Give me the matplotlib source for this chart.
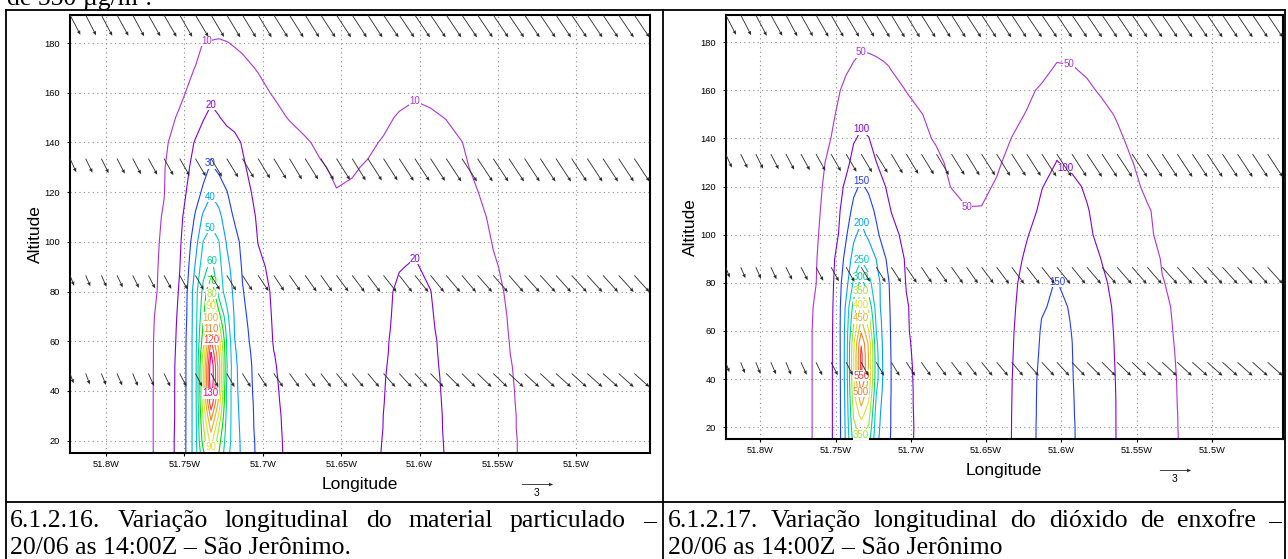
import matplotlib
matplotlib.use("Agg")
import matplotlib.pyplot as plt
import numpy as np

W, H = 1288, 559

# ---------------- data ----------------
# model grid longitudes (negative = West) and altitudes (m)
lon = [-51.823, -51.783, -51.773, -51.763, -51.753, -51.748, -51.743, -51.738,
       -51.733, -51.728, -51.723, -51.718, -51.713, -51.703, -51.693, -51.683,
       -51.673, -51.663, -51.653, -51.643, -51.633, -51.623, -51.613, -51.603,
       -51.593, -51.583, -51.573, -51.563, -51.553, -51.543, -51.533, -51.523,
       -51.513, -51.453]
alt = [15, 20, 25, 30, 35, 40, 45, 50, 55, 60, 65, 70, 80, 90, 100, 110, 120,
       130, 140, 150, 160, 170, 180, 192]

# particulate matter (ug/m3), one row per altitude
pm = [
    [2, 5, 8, 14.5, 23, 32, 46, 68, 86, 70, 53, 45, 38, 28, 22, 18.5, 16.8, 15.7, 15.2, 15.6, 17.5, 20.5, 22.5, 24, 21.8, 19.7, 16.5, 14, 12.2, 10.8, 9.3, 8, 7, 3],
    [2, 5, 8, 14.5, 23, 32, 46, 75, 94, 74, 55, 45, 37.7, 27.8, 21.8, 18.5, 16.8, 15.7, 15.2, 15.6, 17.5, 20.3, 22.4, 23.9, 21.7, 19.6, 16.5, 14, 12.2, 10.8, 9.3, 8, 7, 3],
    [2, 5, 8, 14.5, 22.8, 32, 46, 78, 103, 80, 56, 44.5, 37.2, 27.3, 21.5, 18.5, 16.8, 15.7, 15.2, 15.6, 17.4, 20.1, 22.3, 23.8, 21.6, 19.5, 16.4, 13.9, 12.1, 10.7, 9.2, 7.9, 6.9, 3],
    [2, 5, 8, 14.5, 22.6, 32, 46, 82, 114, 88, 57, 44, 36.7, 27.3, 21.3, 18.5, 16.7, 15.6, 15.1, 15.5, 17.3, 20.05, 22.2, 23.7, 21.5, 19.5, 16.4, 13.9, 12.1, 10.7, 9.2, 7.9, 6.9, 3],
    [2, 5, 8, 14.5, 22.6, 32, 46, 86, 127, 96, 58, 43.5, 36.2, 27.2, 21, 18.4, 16.7, 15.6, 15.1, 15.5, 17.2, 19.9, 22.1, 23.6, 21.4, 19.4, 16.3, 13.8, 12, 10.6, 9.1, 7.8, 6.8, 3],
    [2, 5, 8, 14.5, 22.6, 32, 46, 88, 136, 102, 58, 43, 35.7, 26.8, 20.8, 18.3, 16.6, 15.5, 15, 15.4, 17.2, 19.8, 22, 23.5, 21.3, 19.3, 16.2, 13.8, 12, 10.5, 9.1, 7.8, 6.8, 3],
    [2, 5, 8, 14.4, 22.6, 32, 46, 88, 140, 105, 60, 42.7, 35.5, 26.6, 20.6, 18.2, 16.6, 15.5, 15, 15.4, 17.1, 19.7, 21.9, 23.4, 21.2, 19.2, 16.1, 13.7, 11.9, 10.4, 9, 7.7, 6.7, 3],
    [2, 5, 8, 14.3, 22.6, 32, 46, 87, 139, 105, 61, 42.4, 35.3, 26.4, 20.4, 18, 16.5, 15.4, 14.9, 15.3, 17, 19.5, 21.8, 23.3, 21.1, 19, 16, 13.6, 11.8, 10.3, 8.9, 7.7, 6.7, 3],
    [2, 5, 8, 14.2, 22.3, 32, 46, 82, 131, 101, 60, 41.5, 34.5, 26, 20.1, 18, 16.5, 15.4, 14.9, 15.3, 16.9, 19.3, 21.6, 23.1, 21, 18.8, 15.8, 13.5, 11.7, 10.1, 8.9, 7.6, 6.6, 3],
    [2, 5, 8, 14.1, 22, 32, 46, 76, 121, 95, 59, 40.3, 33.5, 25.4, 19.6, 18, 16.5, 15.3, 14.8, 15.2, 16.8, 19.2, 21.5, 23, 20.9, 18.7, 15.6, 13.4, 11.7, 10.02, 8.9, 7.6, 6.6, 3],
    [2, 5, 7.9, 13.8, 21.8, 31.5, 46, 72, 111, 85, 56, 39.5, 32.8, 25, 19.4, 17.9, 16.4, 15.2, 14.7, 15.1, 16.7, 19, 21.3, 22.7, 20.7, 18.2, 15.4, 13.2, 11.5, 9.9, 8.8, 7.5, 6.5, 3],
    [2, 5, 7.8, 13.5, 21.5, 31, 46, 68, 100.3, 74, 53, 39, 32, 24.5, 19.2, 17.8, 16.3, 15.1, 14.6, 15, 16.6, 18.8, 21.2, 22.4, 20.6, 17.6, 15.2, 13, 11.4, 9.8, 8.7, 7.5, 6.5, 3],
    [2, 5, 7.5, 12, 20.8, 30.5, 46, 63, 81, 55, 46, 37.7, 30.5, 23.6, 18.8, 17, 15.5, 14.5, 14, 14.5, 16, 18.5, 21, 21.8, 20.1, 17, 14.5, 12.5, 11, 9.5, 8.5, 7.3, 6.3, 3],
    [2, 5, 7.6, 11.5, 19.8, 28, 41, 56, 63, 53, 43, 35.3, 29.2, 21.7, 18, 16.2, 14.8, 13.8, 13.2, 13.8, 15.2, 17.5, 19.7, 20.5, 18.7, 16.2, 14, 12.2, 10.4, 9.2, 8.2, 7.1, 6.2, 3],
    [2, 5, 7.7, 11, 18.8, 26, 36, 50.3, 55, 50.3, 39, 33, 28, 19.8, 17.3, 15.3, 14, 13, 12.5, 13, 14.5, 16.5, 18.3, 19, 17.5, 15.5, 13.5, 11.7, 9.8, 8.8, 8, 7, 6.1, 3],
    [2, 5, 7.6, 10.5, 17.8, 23.5, 31, 42, 47, 43, 34, 29, 25, 19, 16.6, 14.3, 13, 12, 11.5, 12, 13.3, 15, 16.5, 17.2, 16, 14.5, 12.7, 10.9, 9.3, 8.5, 7.7, 6.8, 6, 3],
    [2, 5, 7.4, 9.8, 16.8, 20.7, 26.4, 31.5, 39, 35, 30.3, 26.7, 23.3, 17.5, 16, 13.5, 11.8, 10.7, 10.1, 10.4, 12, 13.5, 14.5, 15.5, 14.5, 13.5, 12, 10.05, 9, 8.2, 7.5, 6.6, 5.9, 3],
    [2, 5, 7.2, 9.6, 15.5, 19, 23, 27, 31, 28, 26, 24, 20.8, 17.3, 15.3, 13, 11.3, 10.3, 9.5, 9.7, 10.3, 11, 11.6, 12.2, 11.8, 11.4, 10.5, 9.4, 8.6, 7.9, 7.2, 6.4, 5.8, 3],
    [2, 5, 7, 8.5, 14.1, 17.4, 20.6, 23.5, 26.5, 24.5, 23, 21.5, 19.6, 17.3, 15, 12.7, 10.4, 9.3, 8.8, 9, 9.4, 10.3, 11, 11.7, 11.5, 11, 10.05, 8.8, 8, 7.5, 6.8, 6.1, 5.5, 3],
    [2, 5, 6.5, 7.5, 10.9, 13.7, 16.6, 19.5, 22, 20.3, 18.5, 17.9, 16.7, 14.3, 11.9, 9.6, 8.8, 8.3, 8, 8.1, 8.5, 9.2, 10.4, 11.2, 10.5, 9.9, 8.9, 8, 7.4, 6.9, 6.4, 5.8, 5.3, 3],
    [2, 5, 6, 7, 8.7, 10.5, 13, 16, 18, 17, 16, 14.5, 13.5, 11.6, 9.5, 8.5, 8, 7.5, 7.2, 7.3, 7.5, 8, 8.8, 9.4, 9.2, 8.5, 8, 7.4, 6.8, 6.4, 6, 5.5, 5, 3],
    [2, 5, 5.3, 6.2, 7.5, 8.5, 10.2, 12.5, 14.2, 13.5, 13, 12, 11.3, 9.6, 8.5, 7.6, 7.2, 6.9, 6.7, 6.8, 7, 7.3, 7.8, 8.2, 8, 7.6, 7.1, 6.6, 6.2, 5.8, 5.5, 5.1, 4.7, 2.8],
    [2, 4.5, 4.6, 5.3, 6.2, 6.8, 7.5, 10.2, 10.4, 10.6, 10.2, 9.6, 9, 8, 7, 6.6, 6.3, 6.1, 6, 6, 6.2, 6.5, 6.8, 7, 6.9, 6.6, 6.2, 5.8, 5.5, 5.2, 5, 4.6, 4.3, 2.6],
    [2, 3.5, 3.5, 4, 4.5, 5, 5.5, 6, 6, 6.5, 6.5, 6.5, 6, 5.5, 5, 4.6, 4.4, 4.3, 4.2, 4.2, 4.3, 4.5, 4.8, 5, 4.9, 4.7, 4.5, 4.2, 4, 3.8, 3.6, 3.4, 3.2, 2.2],
]

# sulphur dioxide (ug/m3), one row per altitude
so2 = [
    [8, 18, 30, 57, 94, 129, 210, 320, 335, 320, 215, 172, 147, 111, 88, 78, 72, 68, 68, 78, 100.5, 131, 162, 178, 155, 131, 112, 99, 85, 72, 60, 50.5, 43, 20],
    [8, 18, 30, 57, 94, 129, 212, 338, 375, 345, 222, 175, 148, 112, 88, 78, 72, 68, 68, 78, 100.3, 131, 162, 178, 155, 131, 112, 99, 85, 72, 60, 50.3, 43, 20],
    [8, 18, 30, 57, 94, 129, 214, 355, 415, 370, 228, 177, 148, 111, 88, 78, 72, 68, 68, 78, 100.2, 131, 161, 178, 154, 130, 111.5, 99, 85, 72, 60, 50.2, 43, 20],
    [8, 18, 30, 57, 94, 129, 216, 370, 460, 395, 240, 180, 148, 110, 88, 78, 72, 68, 68, 77.5, 99.8, 130.5, 161, 178, 153.5, 130, 111.3, 99, 84.5, 71.5, 59.5, 49.9, 42.5, 20],
    [8, 18, 30, 57, 94, 129, 218, 385, 505, 420, 255, 185, 149, 110, 88, 78, 72, 68, 68, 77, 99.4, 130.3, 160.5, 177.5, 152.8, 129.5, 111.2, 98.8, 84.3, 71.3, 59.3, 49.7, 42.3, 20],
    [8, 18, 30, 57, 94, 129, 222, 395, 545, 440, 270, 188, 149, 109, 88, 78, 72, 67.5, 67.5, 77, 99, 130, 160, 177, 152, 129, 111, 98.5, 84, 71, 59, 49.5, 42, 20],
    [8, 18, 30, 57, 93.8, 129.5, 223, 398, 565, 445, 272, 188, 149, 108.5, 87.5, 77.8, 71.7, 67.2, 67.2, 76.5, 98, 129.5, 158, 175, 151.5, 128.3, 110.5, 98.2, 83.8, 70.8, 58.5, 49, 41.8, 20],
    [8, 18, 30, 57, 93.5, 130, 223, 398, 565, 445, 270, 187, 148, 107, 87, 77.5, 71.5, 67, 67, 76, 97, 129, 156, 173, 151, 127.5, 110, 97.8, 83.5, 70.5, 58, 48.5, 41.5, 20],
    [8, 18, 30, 57, 93, 131, 222, 390, 545, 440, 262, 185, 147, 105.5, 86.5, 77.2, 71, 66.5, 66.5, 75.5, 96, 128, 154.5, 170.5, 150.5, 126.8, 109.5, 97.5, 83.2, 70.2, 57.5, 47.8, 41.2, 19.5],
    [8, 18, 30, 57, 92, 132, 220, 360, 492, 400.5, 250.5, 182, 146, 104, 84, 76.5, 70.5, 66, 66, 75, 95, 127, 153, 168, 149, 126, 109, 97, 83, 70, 57, 47, 41, 19],
    [8, 17.5, 29.5, 56, 91, 132, 215, 340, 452, 370, 240, 180, 145, 103.5, 83.5, 76, 70, 65.5, 65.5, 73, 93, 126, 150.5, 164, 147.5, 125, 108, 96.5, 82.5, 69.5, 56, 46.5, 40.5, 19],
    [8, 17, 29, 55, 90, 132, 210, 320, 410, 340, 228, 176, 144, 103, 84, 76, 70, 65, 65, 71, 91, 125, 145, 160, 146, 124, 107, 96, 82, 69, 55, 46, 40, 19],
    [8, 17, 28, 49.5, 84, 132, 182, 258, 318, 262, 225, 175, 140, 98, 84, 76, 68, 63, 63, 68, 84, 124, 146, 151, 138, 118, 104, 93, 80, 68, 51, 45, 40, 19],
    [8, 17, 27, 48, 80, 122, 165, 220, 246, 232, 199, 158, 131, 95, 81, 73, 66, 61, 61, 66, 81, 108, 133, 141, 128, 111, 99, 89, 77, 63, 48, 43, 38, 18],
    [8, 16, 26, 45, 75, 101, 145, 190, 215, 190, 160, 132, 112, 89, 77, 70, 63, 58, 58, 62, 76, 97, 120, 131, 120, 104, 94, 84, 72, 53, 46, 41, 36, 17],
    [8, 16, 25, 42, 70, 93, 128, 162, 183, 168, 142, 118, 99, 82, 72, 63, 56, 51, 51, 57, 70, 88, 106, 120, 111, 102, 88, 78, 66, 52, 44, 39, 34, 16],
    [8, 15, 24, 40, 64, 84, 110, 140, 156, 142, 122, 103, 90, 74, 64, 56, 49.5, 45, 46, 52, 63, 79, 99, 110, 107, 96, 86, 71, 55, 46, 42, 37, 33, 16],
    [8, 15, 23, 38, 58, 72, 87, 115, 128, 118, 100.5, 88, 78, 65, 57, 53, 47, 41, 42, 47, 56, 70, 85, 101, 94, 85, 75, 65, 50.5, 43, 39, 35, 31, 15],
    [7, 14, 22, 35, 50.3, 62, 78, 96, 106, 101, 88, 77, 70, 60, 53, 48.5, 42, 38, 38, 43, 50.3, 61, 74, 90, 83, 74, 64, 54, 45, 40, 36, 33, 29, 14],
    [7, 13, 20, 31, 45, 54, 66, 80, 90, 86, 77, 68, 62, 54, 50.5, 45, 40, 36, 35, 39, 45, 51, 62, 78, 71, 63, 56, 48, 41, 37, 33, 30, 27, 13],
    [6, 12, 18, 27, 38, 48, 57, 65, 71, 69, 63, 58, 55, 49.7, 44, 40, 36, 33, 32, 35, 40, 46, 53, 64, 60, 54, 47, 41, 36, 33, 30, 27, 25, 12],
    [6, 11, 16, 24, 33, 40, 46, 52, 57, 56, 54, 52, 49, 44, 39, 35, 32, 29, 28, 30, 34, 38, 43, 51.5, 50.5, 46, 40, 35, 31, 29, 27, 25, 23, 11],
    [5, 10, 14, 21, 29, 34, 38, 42, 45, 45, 44, 42, 40, 36, 32, 29, 27, 25, 24, 25, 28, 32, 36, 42, 42, 38, 34, 30, 27, 25, 23, 22, 20, 10],
    [4, 8, 12, 17, 22, 25, 28, 31, 33, 33, 33, 32, 31, 28, 25, 23, 21, 20, 19, 20, 22, 25, 28, 32, 32, 29, 26, 24, 22, 20, 19, 18, 17, 9],
]

pm_levels = [10, 20, 30, 40, 50, 60, 70, 80, 90, 100, 110, 120, 130]
so2_levels = [50, 100, 150, 200, 250, 300, 350, 400, 450, 500, 550]

# wind vectors (u, w) at the model points, 4 model levels
vec_lon = [-51.823, -51.813, -51.803, -51.793, -51.783, -51.773, -51.763, -51.753,
           -51.743, -51.733, -51.723, -51.713, -51.703, -51.693, -51.683, -51.673,
           -51.663, -51.653, -51.643, -51.633, -51.623, -51.613, -51.603, -51.593,
           -51.583, -51.573, -51.563, -51.553, -51.543, -51.533, -51.523, -51.513,
           -51.503, -51.493, -51.483, -51.473, -51.463]
vec_alt = [47.0, 86.5, 133.5, 191.3]
vec_u = [
    [0.35, 0.4, 0.45, 0.5, 0.5, 0.55, 0.6, 0.65, 0.65, 0.7, 0.75, 0.8, 0.85, 0.9, 0.95, 1.0, 1.0, 1.05, 1.1, 1.1, 1.15, 1.2, 1.2, 1.25, 1.3, 1.3, 1.35, 1.35, 1.4, 1.4, 1.4, 1.45, 1.45, 1.45, 1.45, 1.45, 1.45],
    [0.4, 0.45, 0.5, 0.55, 0.6, 0.65, 0.7, 0.75, 0.8, 0.85, 0.9, 0.95, 1.0, 1.0, 1.05, 1.1, 1.1, 1.15, 1.2, 1.2, 1.25, 1.25, 1.3, 1.3, 1.35, 1.35, 1.4, 1.4, 1.4, 1.45, 1.45, 1.45, 1.45, 1.45, 1.45, 1.45, 1.45],
    [0.6, 0.65, 0.7, 0.75, 0.8, 0.85, 0.9, 0.95, 1.0, 1.05, 1.1, 1.1, 1.15, 1.2, 1.2, 1.25, 1.25, 1.3, 1.3, 1.35, 1.35, 1.4, 1.4, 1.4, 1.45, 1.45, 1.45, 1.45, 1.45, 1.45, 1.45, 1.45, 1.45, 1.45, 1.45, 1.45, 1.45],
    [1.0, 1.0, 1.05, 1.1, 1.1, 1.15, 1.2, 1.2, 1.25, 1.25, 1.3, 1.3, 1.3, 1.35, 1.35, 1.35, 1.4, 1.4, 1.4, 1.4, 1.45, 1.45, 1.45, 1.45, 1.45, 1.45, 1.45, 1.45, 1.45, 1.45, 1.45, 1.45, 1.45, 1.45, 1.45, 1.45, 1.45],
]
vec_w = [
    [-0.95, -1.05, -1.1, -1.15, -1.2, -1.2, -1.25, -1.25, -1.25, -1.3, -1.3, -1.3, -1.3, -1.3, -1.3, -1.3, -1.3, -1.3, -1.3, -1.3, -1.3, -1.3, -1.3, -1.3, -1.3, -1.3, -1.3, -1.3, -1.3, -1.3, -1.3, -1.3, -1.3, -1.3, -1.3, -1.3, -1.3],
    [-1.0, -1.05, -1.1, -1.15, -1.2, -1.25, -1.3, -1.35, -1.4, -1.4, -1.45, -1.45, -1.5, -1.5, -1.5, -1.55, -1.55, -1.55, -1.6, -1.6, -1.6, -1.6, -1.6, -1.6, -1.6, -1.6, -1.6, -1.6, -1.6, -1.6, -1.6, -1.6, -1.6, -1.6, -1.6, -1.6, -1.6],
    [-1.3, -1.35, -1.4, -1.45, -1.5, -1.55, -1.6, -1.65, -1.7, -1.75, -1.8, -1.85, -1.9, -1.95, -2.0, -2.0, -2.05, -2.05, -2.1, -2.1, -2.1, -2.15, -2.15, -2.15, -2.2, -2.2, -2.2, -2.2, -2.2, -2.2, -2.2, -2.2, -2.2, -2.2, -2.2, -2.2, -2.2],
    [-1.9, -1.95, -2.0, -2.0, -2.05, -2.05, -2.1, -2.1, -2.1, -2.1, -2.15, -2.15, -2.15, -2.15, -2.15, -2.15, -2.15, -2.15, -2.15, -2.15, -2.15, -2.15, -2.15, -2.15, -2.15, -2.15, -2.15, -2.15, -2.15, -2.15, -2.15, -2.15, -2.15, -2.15, -2.15, -2.15, -2.15],
]
vec_ref = 3

xticks = [-51.8, -51.75, -51.7, -51.65, -51.6, -51.55, -51.5]
xticklabels = ['51.8W', '51.75W', '51.7W', '51.65W', '51.6W', '51.55W', '51.5W']
yticks = [20, 40, 60, 80, 100, 120, 140, 160, 180]

caption_left = ["6.1.2.16. Variação longitudinal do material particulado –",
                "20/06 as 14:00Z – São Jerônimo."]
caption_right = ["6.1.2.17. Variação longitudinal do dióxido de enxofre –",
                 "20/06 as 14:00Z – São Jerônimo"]
page_fragment = "de 550 µg/m³."

# ---------------- style ----------------
grads = {9: (175, 50, 215), 14: (130, 0, 220), 4: (30, 60, 255), 11: (0, 160, 255),
         5: (0, 200, 200), 13: (0, 210, 140), 3: (0, 220, 0), 10: (160, 230, 50),
         7: (230, 220, 50), 12: (230, 175, 45), 8: (240, 130, 40), 2: (250, 60, 60),
         6: (240, 0, 130)}


def gcol(n):
    r, g, b = grads[n]
    return (r / 255, g / 255, b / 255)


pm_colors = [gcol(c) for c in [9, 14, 4, 11, 5, 13, 3, 10, 7, 12, 8, 2, 6]]
so2_colors = [gcol(c) for c in [9, 14, 4, 11, 5, 13, 10, 7, 12, 8, 2]]

plt.rcParams['font.family'] = ['Liberation Sans', 'DejaVu Sans']
SERIF = ['Liberation Serif', 'DejaVu Serif']
PX = 10.4  # pixels per vector unit
ARROW = '#2a2a2a'

fig = plt.figure(figsize=(W / 100, H / 100), dpi=100)
bg = fig.add_axes([0, 0, 1, 1], zorder=-5)
bg.set_xlim(0, W)
bg.set_ylim(H, 0)
bg.axis('off')


def place_label(ax, cs, lev, x, y, color):
    """put a GrADS-like label on the contour of value lev nearest to (x, y)"""
    i = list(cs.levels).index(lev)
    path = cs.get_paths()[i]
    tr = ax.transData
    target = tr.transform((x, y))
    best_d, best_p = None, None
    for poly in path.to_polygons(closed_only=False):
        if len(poly) < 2:
            continue
        p = tr.transform(poly)
        a, b = p[:-1], p[1:]
        ab = b - a
        den = (ab ** 2).sum(axis=1)
        den[den == 0] = 1e-9
        t = np.clip(((target - a) * ab).sum(axis=1) / den, 0, 1)
        proj = a + ab * t[:, None]
        d = ((proj - target) ** 2).sum(axis=1)
        j = int(d.argmin())
        if best_d is None or d[j] < best_d:
            best_d, best_p = d[j], proj[j]
    if best_p is None:
        return
    xd, yd = tr.inverted().transform(best_p)
    ax.text(xd, yd, str(lev), color=color, fontsize=7, ha='center', va='center',
            bbox=dict(facecolor='white', edgecolor='none', pad=0.2), zorder=3)


def panel(box, Z, levels, colors, label_spots, key_px, lab_px):
    x0, y0, x1, y1 = box
    ax = fig.add_axes([x0 / W, (H - y1) / H, (x1 - x0) / W, (y1 - y0) / H])
    ax.set_xlim(-51.823, -51.453)
    ax.set_ylim(15, 191.3)
    ax.set_axisbelow(True)
    ax.grid(True, color='#8a8a8a', linestyle=(0, (1, 3)), linewidth=0.8)
    ax.set_xticks(xticks)
    ax.set_xticklabels(xticklabels)
    ax.set_yticks(yticks)
    ax.tick_params(direction='out', length=2.5, width=0.8, labelsize=6.7, pad=2.5)
    ax.tick_params(axis='y', pad=4.5)
    for s in ax.spines.values():
        s.set_linewidth(1.5)
    cs = ax.contour(lon, alt, Z, levels=levels, colors=colors, linewidths=0.8, zorder=2)
    for lev, x, y in label_spots:
        place_label(ax, cs, lev, x, y, colors[levels.index(lev)])
    q = None
    for a, us, ws in zip(vec_alt, vec_u, vec_w):
        q = ax.quiver(vec_lon, [a] * len(vec_lon), us, ws, pivot='tail', angles='uv',
                      scale_units='dots', scale=1 / PX, units='dots', width=0.85,
                      headwidth=4.4, headlength=5.0, headaxislength=4.5,
                      color=ARROW, zorder=4)
    # reference vector (key): centred at key_px
    ax.quiverkey(q, key_px[0] / W, (H - key_px[1]) / H, vec_ref, ' ', coordinates='figure',
                 labelpos='S', color=ARROW)
    bg.text(key_px[0], key_px[1] + 9, str(vec_ref), fontsize=7.5,
            ha='center', va='center')
    cx = (x0 + x1) / 2
    bg.text(cx, lab_px, 'Longitude', fontsize=12.5, ha='center', va='center')
    bg.text(x0 - 35, (y0 + y1) / 2, 'Altitude', fontsize=12.5, rotation=90,
            ha='center', va='center')
    return ax


pm_labels = [(10, -51.736, 181), (10, -51.603, 157), (20, -51.733, 155), (20, -51.603, 93),
             (30, -51.733, 131.5), (40, -51.733, 118), (50, -51.733, 105.5), (60, -51.733, 92),
             (70, -51.733, 84), (80, -51.733, 79), (90, -51.733, 74), (100, -51.733, 69.5),
             (110, -51.733, 65), (120, -51.733, 60.5), (130, -51.733, 39), (90, -51.733, 17.5)]
so2_labels = [(50, -51.733, 175.8), (50, -51.663, 111.5), (50, -51.595, 171), (100, -51.733, 144),
              (100, -51.594, 130), (150, -51.733, 122.5), (150, -51.603, 80.3), (200, -51.733, 105.5),
              (250, -51.733, 89.5), (300, -51.733, 82.5), (350, -51.733, 76.5), (400, -51.733, 71),
              (450, -51.733, 65.3), (550, -51.733, 41.5), (500, -51.733, 34.6), (350, -51.733, 17)]

panel((70, 15, 650, 453), pm, pm_levels, pm_colors, pm_labels, (537, 484), 484)
panel((725.7, 15, 1282.7, 439.3), so2, so2_levels, so2_colors, so2_labels, (1175, 470), 470)

# ---------------- document table ----------------
lw = 1.3
bg.plot([6, 6], [9.5, H], color='black', lw=lw)
bg.plot([663, 663], [9.5, H], color='black', lw=lw)
bg.plot([1285, 1285], [9.5, H], color='black', lw=lw)
bg.plot([6, 1285], [9.5, 9.5], color='black', lw=lw)
bg.plot([6, 1285], [502, 502], color='black', lw=lw)

bg.text(7, 5.0, page_fragment, fontsize=18.5, family=SERIF, va='baseline', ha='left')

renderer = fig.canvas.get_renderer()
CAP_FS = 18.5


def justified(line, xa, xb, y):
    words = line.split(' ')
    widths = []
    for w in words:
        t = bg.text(0, 0, w, fontsize=CAP_FS, family=SERIF)
        widths.append(t.get_window_extent(renderer=renderer).width)
        t.remove()
    gap = (xb - xa - sum(widths)) / (len(words) - 1)
    x = xa
    for w, wd in zip(words, widths):
        bg.text(x, y, w, fontsize=CAP_FS, family=SERIF, va='baseline', ha='left')
        x += wd + gap


justified(caption_left[0], 10, 656, 527)
bg.text(10, 554, caption_left[1], fontsize=CAP_FS, family=SERIF, va='baseline', ha='left')
justified(caption_right[0], 668, 1281, 527)
bg.text(668, 554, caption_right[1], fontsize=CAP_FS, family=SERIF, va='baseline', ha='left')

fig.savefig('out.png', dpi=100)
